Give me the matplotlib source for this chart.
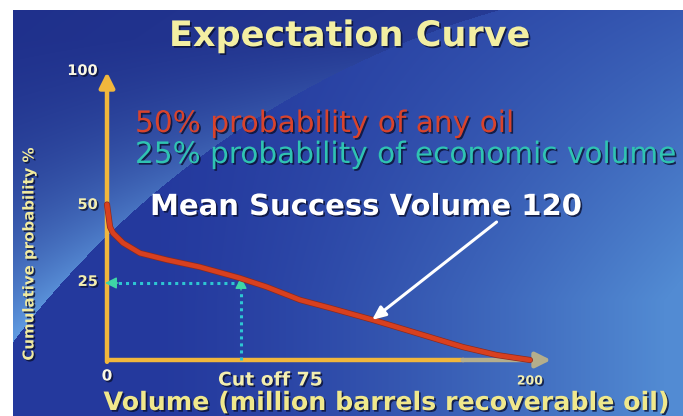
import numpy as np
import matplotlib
matplotlib.use('Agg')
import matplotlib.pyplot as plt
import matplotlib.patheffects as pe
from matplotlib import font_manager
from matplotlib.colors import to_rgb

W, H = 683, 416

# expectation curve: volume vs cumulative probability %
volume = [0, 1.7, 3.4, 9.0, 18.5, 33.6, 52.0, 74.4, 89.5, 108.0, 124.8, 148.9, 171.2, 199.2, 218.2, 236.7]
probability = [50.5, 43.2, 41.2, 38.0, 34.7, 32.5, 30.2, 26.6, 23.7, 19.5, 16.9, 13.0, 9.1, 4.2, 1.6, 0.0]

cutoff_volume = 75
cutoff_prob = 25
mean_point = (148.3, 13.0)
mean_label_tail = (218.0, 44.8)

y_ticks = [25, 50, 93.5]
y_labels = ['25', '50', '100']
x_end = 236.7
x_labels = ['0', 'Cut off 75', '200']

# scale of the slide: pixels per unit, origin of the axes in pixels
SX, SY = 1.787, 3.08
OX, OY = 107, 360


def dx(px):
    return (px - OX) / SX


def dy(py):
    return (OY - py) / SY


def background():
    yy, xx = np.mgrid[0:H, 0:W].astype(float)
    dark = np.array(to_rgb('#22359b'))
    light = np.array(to_rgb('#528bd3'))
    navy = np.array(to_rgb('#1e2e8a'))
    glow = np.array(to_rgb('#5f9ae0'))
    d = np.hypot(xx - 750, yy - 900) - 925
    xpart = np.clip((xx - 150) / 533, 0, 1) ** 1.4
    ypart = np.clip(yy / 300, 0, 1)
    t_in = np.clip(0.05 + xpart * (0.35 + 0.65 * ypart), 0, 1)[..., None]
    inner = dark * (1 - t_in) + light * t_in
    b = (np.exp(-np.clip(d, 0, None) / 140) * np.clip(yy / 330, 0.12, 1))[..., None]
    outer = navy * (1 - b) + glow * b
    img = np.where((d > 0)[..., None], outer, inner)
    img[:10, :] = 1
    img[:, :13] = 1
    return img


def fit_text(fig, txt, width):
    r = fig.canvas.get_renderer()
    w = txt.get_window_extent(r).width
    txt.set_fontsize(txt.get_fontsize() * width / w)


names = {f.name for f in font_manager.fontManager.ttflist}
narrow = 'Liberation Sans Narrow' if 'Liberation Sans Narrow' in names else 'DejaVu Sans'

fig = plt.figure(figsize=(W / 100, H / 100), dpi=100)
ax = fig.add_axes([0, 0, 1, 1])
x0, x1 = dx(0), dx(W)
y0, y1 = dy(H), dy(0)
ax.imshow(background(), extent=[x0, x1, y0, y1], aspect='auto', zorder=0)
ax.set_xlim(x0, x1)
ax.set_ylim(y0, y1)
ax.axis('off')

shadow = [pe.withSimplePatchShadow(offset=(1.2, -1.2), shadow_rgbFace='#0a1030', alpha=0.8)]

axis_col = '#f1b73c'
# y axis
ax.annotate('', xy=(0, y_ticks[-1]), xytext=(0, -0.6),
            arrowprops=dict(arrowstyle='-|>,head_width=0.45,head_length=0.9', color=axis_col, lw=3.2,
                            shrinkA=0, shrinkB=0), zorder=3)
# x axis
ax.plot([0, 200], [0, 0], color=axis_col, lw=3.2, solid_capstyle='butt', zorder=3)
ax.annotate('', xy=(dx(551), 0), xytext=(199, 0),
            arrowprops=dict(arrowstyle='-|>,head_width=0.45,head_length=0.9', color='#b4ae8c', lw=3.2,
                            shrinkA=0, shrinkB=0), zorder=3)

# dotted cut-off guides
dot_col = '#2ec6d2'
ax.plot([cutoff_volume, dx(116)], [cutoff_prob, cutoff_prob], color=dot_col, lw=2.2,
        linestyle=(0, (1, 1.3)), zorder=4)
ax.plot([cutoff_volume, cutoff_volume], [0, cutoff_prob - 2.5], color=dot_col, lw=2.2,
        linestyle=(0, (1, 1.3)), zorder=4)
head_col = '#3ed6a6'
ax.annotate('', xy=(dx(105), cutoff_prob), xytext=(dx(118), cutoff_prob),
            arrowprops=dict(arrowstyle='-|>,head_width=0.35,head_length=0.7', color=head_col, lw=1,
                            shrinkA=0, shrinkB=0), zorder=5)
ax.annotate('', xy=(cutoff_volume, dy(277)), xytext=(cutoff_volume, dy(290)),
            arrowprops=dict(arrowstyle='-|>,head_width=0.35,head_length=0.7', color=head_col, lw=1,
                            shrinkA=0, shrinkB=0), zorder=5)

# expectation curve
ax.plot(volume, probability, color='#d8401f', lw=3.4, solid_capstyle='round', zorder=6,
        path_effects=[pe.Stroke(linewidth=4.4, foreground='#8a2a20'), pe.Normal()])

# mean success arrow
ax.annotate('', xy=mean_point, xytext=mean_label_tail,
            arrowprops=dict(arrowstyle='-|>,head_width=0.35,head_length=0.8', color='white', lw=2.2,
                            shrinkA=0, shrinkB=0,
                            path_effects=[pe.withSimplePatchShadow(offset=(1, -1), alpha=0.5)]),
            zorder=7)

tick_col = '#f3eeb0'
for v, lab in zip(y_ticks, y_labels):
    ax.text(dx(98), v + 0.5, lab, color=tick_col if lab != '100' else '#fbf8e4', fontsize=10.5,
            fontweight='bold', ha='right', va='center', path_effects=shadow, zorder=8)
ax.text(0, dy(376), x_labels[0], color='#fbf8e4', fontsize=11, fontweight='bold',
        ha='center', va='center', path_effects=shadow, zorder=8)
t = ax.text(dx(218), dy(380), x_labels[1], color=tick_col, fontsize=10, fontweight='bold',
            ha='left', va='center', path_effects=shadow, zorder=8)
fit_text(fig, t, 105)
ax.text(x_end, dy(381), x_labels[2], color=tick_col, fontsize=9, fontweight='bold',
        ha='center', va='center', path_effects=shadow, zorder=8)

# titles and captions
t = fig.text(350 / W, 1 - 36 / H, 'Expectation Curve', color='#f3efa2', fontsize=22, fontweight='bold',
             ha='center', va='center', path_effects=shadow)
fit_text(fig, t, 360)
t = fig.text(135 / W, 1 - 132 / H, '50% probability of any oil', color='#d8432c', fontsize=16,
             ha='left', va='baseline', path_effects=shadow)
fit_text(fig, t, 381)
t = fig.text(135 / W, 1 - 163 / H, '25% probability of economic volume', color='#2fc3b2', fontsize=16,
             ha='left', va='baseline', path_effects=shadow)
fit_text(fig, t, 543)
t = fig.text(150 / W, 1 - 215 / H, 'Mean Success Volume 120', color='white', fontsize=18,
             fontweight='bold', ha='left', va='baseline', path_effects=shadow)
fit_text(fig, t, 433)
t = fig.text(386 / W, 1 - 410 / H, 'Volume (million barrels recoverable oil)', color='#f0e88c',
             fontsize=18, fontweight='bold', ha='center', va='baseline', path_effects=shadow)
fit_text(fig, t, 568)
t = fig.text(29 / W, 1 - 254 / H, 'Cumulative probability %', color='#f0eaa0', fontsize=13,
             fontweight='bold', family=narrow, rotation=90, ha='center', va='center', path_effects=shadow)
r = fig.canvas.get_renderer()
t.set_fontsize(t.get_fontsize() * 212 / t.get_window_extent(r).height)

fig.savefig('out.png', dpi=100)
